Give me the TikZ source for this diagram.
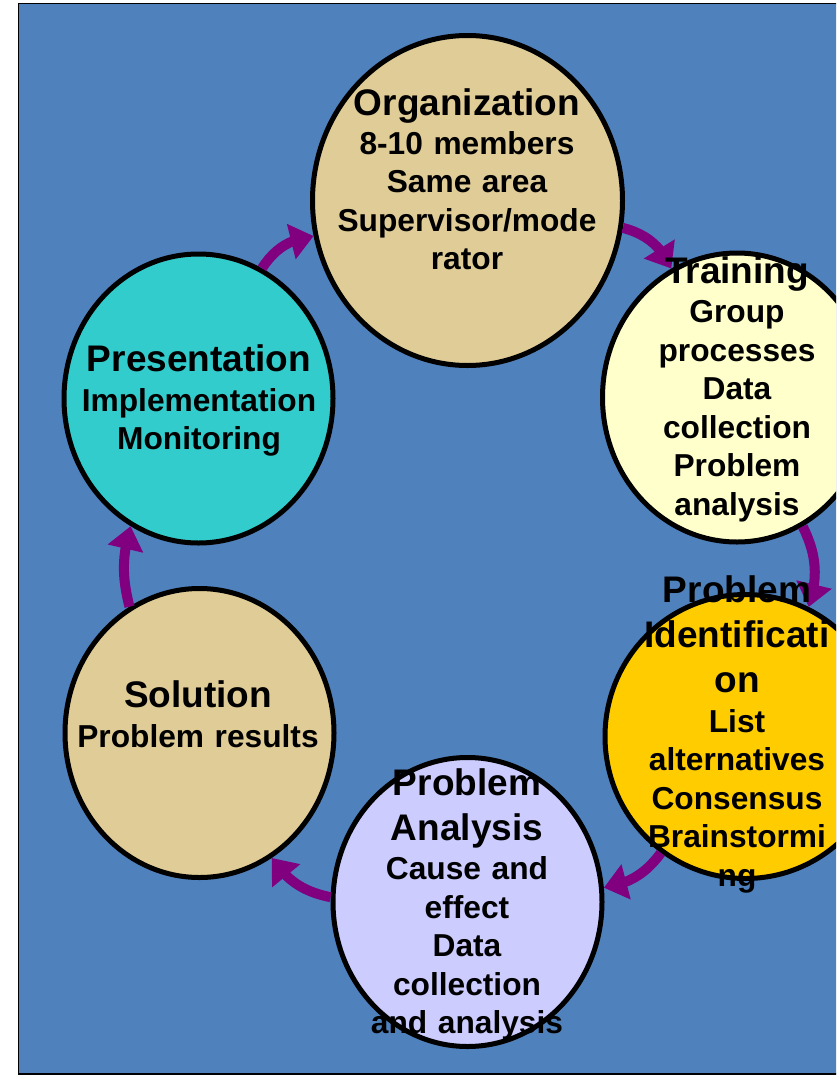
\documentclass[tikz,border=0pt]{standalone}
\usepackage{fontspec}
\setmainfont{Liberation Sans}
\usetikzlibrary{shapes.geometric,arrows.meta,bending}
\definecolor{bgblue}{HTML}{4F81BD}
\definecolor{tanfill}{HTML}{E0CC96}
\definecolor{paleyellow}{HTML}{FFFFCC}
\definecolor{goldfill}{HTML}{FFCC00}
\definecolor{lavender}{HTML}{CCCCFF}
\definecolor{tealfill}{HTML}{33CCCC}
\definecolor{flowpurple}{HTML}{800080}
\newcommand\titl[1]{{\fontsize{37}{44.5}\selectfont #1}}
\begin{document}
\begin{tikzpicture}[x=1pt,y=1pt,
  ell/.style={ellipse, draw=black, line width=5pt, inner sep=0pt},
  small/.style={ell, minimum width=269pt, minimum height=289pt},
  txt/.style={anchor=base, align=center, text width=330pt, inner sep=0pt,
    font=\bfseries\fontsize{31.7}{38.5}\selectfont},
  flow/.style={draw=flowpurple, line width=10pt,
    -{Triangle[width=35pt,length=23pt]}}]
\useasboundingbox (0,0) rectangle (836,-1076);
\clip (0,0) rectangle (836,-1076);
\fill[white] (0,0) rectangle (836,-1076);
\draw[fill=bgblue, line width=1.5pt] (18.5,-3.5) rectangle (850,-1074);
% ellipses
\node[ell, fill=tanfill, minimum width=310pt, minimum height=330pt] (org) at (467.5,-200.5) {};
\node[small, fill=paleyellow] (trn) at (737,-397.5) {};
\node[small, fill=goldfill, minimum width=281pt, minimum height=284pt] (pid) at (745.5,-736.5) {};
\node[small, fill=lavender] (pan) at (467.5,-902) {};
\node[small, fill=tanfill] (sol) at (199.5,-733) {};
\node[small, fill=tealfill] (pre) at (198.5,-398.5) {};
% arrows
\draw[flow] (pre.64) to[bend left=25] (org.193);
\draw[flow] (org.-10) to[bend left=25] (trn.117);
\draw[flow] (trn.-63) to[bend left=22] (pid.64);
\draw[flow] (pid.234) to[bend left=22] (pan.6);
\draw[flow] (pan.178) to[bend left=22] (sol.-60);
\draw[flow] (sol.119) to[bend left=15] (pre.242);
% texts
\node[txt] (torg) at (467,-115) {\titl{Organization}\\[0.5pt] 8-10 members\\ Same area\\ Supervisor/mode\\ rator};
\node[txt] (ttrn) at (737,-283) {\titl{Training}\\[1pt] Group\\ processes\\ Data\\ collection\\ Problem\\ analysis};
\node[txt] (tpid) at (737,-602) {\titl{Problem}\\[6.5pt] \titl{Identificati}\\[6.5pt] \titl{on}\\[1.5pt] List\\ alternatives\\ Consensus\\ Brainstormi\\ ng};
\node[txt] (tpan) at (467,-795) {\titl{Problem}\\[6.5pt] \titl{Analysis}\\[1pt] Cause and\\ effect\\ Data\\ collection\\ and analysis};
\node[txt] (tsol) at (198,-707.5) {\titl{Solution}\\[1pt] Problem results};
\node[txt] (tpre) at (199,-371.5) {\titl{Presentation}\\[1pt] Implementation\\ Monitoring};
\end{tikzpicture}
\end{document}
